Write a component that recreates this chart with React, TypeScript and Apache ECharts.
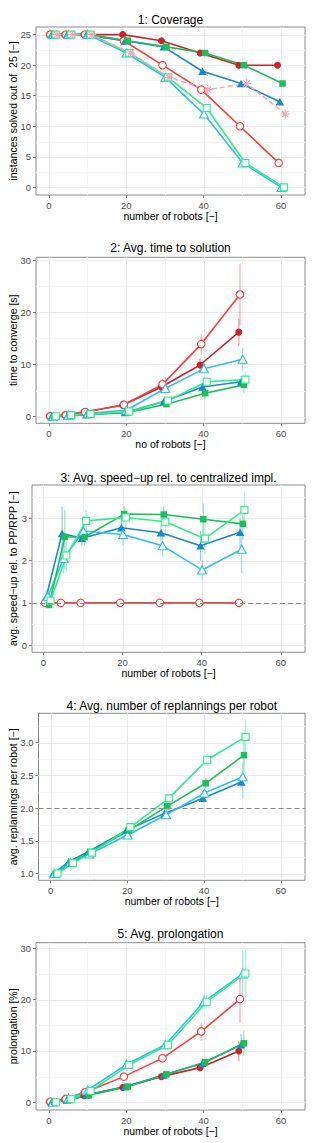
import React, { useEffect, useRef } from "react";
import * as echarts from "echarts";

// ---------- shared axis values ----------
const robots = [1, 5, 10, 20, 30, 40, 50, 60];
const xTickValues = [0, 20, 40, 60];
const xMinorValues = [10, 30, 50];

// ---------- panel 1: coverage (instances solved out of 25) ----------
const covRedFilled = [25, 25, 25, 25, 24, 22, 20, 20];
const covRedOpen = [25, 25, 25, 24, 20, 16, 10, 4];
const covBlueFilled = [25, 25, 25, 24, 23, 19, 17, 14];
const covBlueOpen = [25, 25, 25, 22, 18, 12, 4, 0];
const covGreenFilled = [25, 25, 25, 24, 23, 22, 20, 17];
const covGreenOpen = [25, 25, 25, 22, 18, 13, 4, 0];
const covPink = [25, 25, 25, 22, 18, 16, 17, 12];

// ---------- panel 2: time to converge [s] ----------
const timeRedOpen = [0.1, 0.3, 0.9, 2.3, 6.2, 13.9, 23.4];
const timeRedOpenLo = [0.1, 0.3, 0.8, 2.0, 5.5, 11.8, 17.5];
const timeRedOpenHi = [0.1, 0.3, 1.0, 2.6, 7.2, 15.8, 29.3];
const timeRedFilled = [0.1, 0.3, 0.9, 2.2, 5.7, 9.9, 16.2];
const timeRedFilledLo = [0.1, 0.3, 0.8, 2.0, 5.0, 8.6, 13.5];
const timeRedFilledHi = [0.1, 0.3, 1.0, 2.4, 6.4, 11.2, 18.8];
const timeBlueFilled = [0, 0.1, 0.4, 0.8, 2.9, 5.7, 6.7];
const timeBlueFilledLo = [0, 0.1, 0.3, 0.7, 2.5, 5.0, 5.6];
const timeBlueFilledHi = [0, 0.2, 0.5, 1.0, 3.3, 6.4, 7.8];
const timeBlueOpen = [0, 0.3, 0.6, 1.3, 5.4, 9.2, 11.0];
const timeBlueOpenLo = [0, 0.2, 0.5, 1.1, 4.2, 8.4, 8.9];
const timeBlueOpenHi = [0.4, 0.5, 0.8, 1.6, 7.6, 10.5, 13.2];
const timeGreenFilled = [0.1, 0.3, 0.5, 0.8, 2.4, 4.5, 6.1];
const timeGreenFilledLo = [0.1, 0.2, 0.4, 0.7, 2.1, 3.3, 4.5];
const timeGreenFilledHi = [0.1, 0.4, 0.6, 0.9, 2.8, 5.5, 7.7];
const timeGreenOpen = [0.1, 0.3, 0.5, 1.0, 3.1, 6.7, 7.1];
const timeGreenOpenLo = [0.1, 0.2, 0.4, 0.9, 2.7, 5.8, 6.0];
const timeGreenOpenHi = [0.1, 0.4, 0.6, 1.1, 3.6, 7.9, 8.6];

// ---------- panel 3: speed-up rel. to centralized ----------
const spdRedOpen = [1, 1, 1, 1, 1, 1, 1];
const spdBlueFilled = [1.14, 2.64, 2.53, 2.78, 2.66, 2.35, 2.67];
const spdBlueFilledLo = [1.0, 2.0, 2.35, 2.5, 2.45, 2.0, 2.3];
const spdBlueFilledHi = [1.3, 3.28, 2.7, 3.05, 2.85, 2.7, 3.0];
const spdBlueOpen = [1.15, 2.05, 2.7, 2.62, 2.35, 1.78, 2.27];
const spdBlueOpenLo = [1.05, 1.7, 2.45, 2.35, 2.1, 1.55, 1.7];
const spdBlueOpenHi = [1.25, 2.4, 2.95, 2.9, 2.6, 2.0, 2.85];
const spdGreenFilled = [0.95, 2.56, 2.56, 3.1, 3.09, 2.98, 2.87];
const spdGreenFilledLo = [0.9, 1.8, 2.35, 2.9, 2.85, 2.6, 2.5];
const spdGreenFilledHi = [1.0, 3.2, 2.75, 3.3, 3.3, 3.35, 3.25];
const spdGreenOpen = [1.05, 2.12, 2.94, 3.02, 2.92, 2.52, 3.2];
const spdGreenOpenLo = [1.0, 1.75, 2.7, 2.75, 2.65, 2.15, 2.8];
const spdGreenOpenHi = [1.1, 2.45, 3.2, 3.25, 3.15, 2.9, 3.62];

// ---------- panel 4: replannings per robot ----------
const repBlueFilled = [1.0, 1.18, 1.33, 1.66, 1.92, 2.15, 2.4];
const repBlueFilledLo = [1.0, 1.17, 1.31, 1.63, 1.89, 2.11, 2.32];
const repBlueFilledHi = [1.0, 1.19, 1.35, 1.69, 1.95, 2.19, 2.5];
const repBlueOpen = [1.0, 1.17, 1.3, 1.59, 1.9, 2.23, 2.48];
const repBlueOpenLo = [1.0, 1.15, 1.28, 1.56, 1.86, 2.17, 2.15];
const repBlueOpenHi = [1.0, 1.19, 1.32, 1.62, 1.94, 2.29, 2.7];
const repGreenFilled = [1.0, 1.16, 1.33, 1.66, 2.03, 2.38, 2.81];
const repGreenFilledLo = [1.0, 1.15, 1.31, 1.63, 1.99, 2.3, 2.55];
const repGreenFilledHi = [1.0, 1.17, 1.35, 1.69, 2.07, 2.46, 3.1];
const repGreenOpen = [1.0, 1.16, 1.32, 1.71, 2.15, 2.74, 3.09];
const repGreenOpenLo = [1.0, 1.15, 1.3, 1.68, 2.1, 2.65, 2.85];
const repGreenOpenHi = [1.0, 1.17, 1.34, 1.74, 2.2, 2.83, 3.35];

// ---------- panel 5: prolongation [%] ----------
const proRedOpen = [0.1, 0.65, 1.95, 5.0, 8.6, 13.8, 20.1];
const proRedOpenLo = [0.1, 0.55, 1.7, 4.5, 7.8, 12.0, 15.5];
const proRedOpenHi = [0.1, 0.75, 2.2, 5.5, 9.4, 15.5, 24.7];
const proRedFilled = [0.1, 0.5, 1.3, 2.9, 5.0, 6.75, 10.0];
const proRedFilledLo = [0.1, 0.4, 1.1, 2.6, 4.6, 6.2, 8.0];
const proRedFilledHi = [0.1, 0.6, 1.5, 3.2, 5.4, 7.3, 12.0];
const proBlueFilled = [0, 0.45, 1.4, 3.05, 5.3, 7.6, 11.2];
const proBlueFilledLo = [0, 0.35, 1.2, 2.7, 4.8, 7.0, 9.2];
const proBlueFilledHi = [0, 0.55, 1.6, 3.4, 5.8, 8.2, 13.3];
const proBlueOpen = [0, 0.8, 2.4, 7.4, 11.2, 19.6, 25.0];
const proBlueOpenLo = [0, 0.6, 2.0, 6.6, 10.2, 18.2, 20.5];
const proBlueOpenHi = [0.2, 1.0, 2.8, 8.2, 12.4, 21.0, 29.5];
const proGreenFilled = [0.1, 0.45, 1.4, 3.05, 5.45, 7.8, 11.5];
const proGreenFilledLo = [0.1, 0.35, 1.2, 2.7, 4.9, 7.2, 9.0];
const proGreenFilledHi = [0.1, 0.55, 1.6, 3.4, 6.0, 8.4, 14.0];
const proGreenOpen = [0, 0.6, 2.2, 7.3, 11.2, 19.6, 25.1];
const proGreenOpenLo = [0, 0.45, 1.9, 6.5, 10.0, 18.2, 20.5];
const proGreenOpenHi = [0.2, 0.8, 2.5, 8.1, 12.4, 21.0, 29.8];

// ---------- styles / layout ----------
const FONT = "'Liberation Sans', Arial, Helvetica, sans-serif";
const ASTERISK = "path://M5,0L5,10M0,5L10,5M1.5,1.5L8.5,8.5M1.5,8.5L8.5,1.5";

type Key = "redFilled" | "redOpen" | "blueFilled" | "blueOpen" | "greenFilled" | "greenOpen" | "pink";
const drawOrder: Key[] = ["redFilled", "redOpen", "blueFilled", "blueOpen", "greenFilled", "greenOpen", "pink"];

const styles: Record<Key, { color: string; symbol: string; size: number | number[]; filled: boolean; dashed?: boolean }> = {
  redFilled: { color: "#C9252C", symbol: "circle", size: 7, filled: true },
  redOpen: { color: "#FF3B3B", symbol: "circle", size: 7.5, filled: false },
  blueFilled: { color: "#1A8AC8", symbol: "triangle", size: [8.5, 7.5], filled: true },
  blueOpen: { color: "#30BFEF", symbol: "triangle", size: [9, 8], filled: false },
  greenFilled: { color: "#1DBF5B", symbol: "rect", size: 6.5, filled: true },
  greenOpen: { color: "#2DEE8A", symbol: "rect", size: 7, filled: false },
  pink: { color: "#F4A6B8", symbol: ASTERISK, size: 9, filled: false, dashed: true },
};
// horizontal dodge of each series around the robot count
const dodge: Record<Key, number> = {
  redFilled: -0.9, redOpen: -0.6, blueFilled: -0.3, blueOpen: 0.1, greenFilled: 0.4, greenOpen: 0.8, pink: 1.1,
};

type PanelData = Partial<Record<Key, { v: number[]; lo?: number[]; hi?: number[] }>>;

const panelData: PanelData[] = [
  {
    redFilled: { v: covRedFilled }, redOpen: { v: covRedOpen }, blueFilled: { v: covBlueFilled },
    blueOpen: { v: covBlueOpen }, greenFilled: { v: covGreenFilled }, greenOpen: { v: covGreenOpen }, pink: { v: covPink },
  },
  {
    redFilled: { v: timeRedFilled, lo: timeRedFilledLo, hi: timeRedFilledHi },
    redOpen: { v: timeRedOpen, lo: timeRedOpenLo, hi: timeRedOpenHi },
    blueFilled: { v: timeBlueFilled, lo: timeBlueFilledLo, hi: timeBlueFilledHi },
    blueOpen: { v: timeBlueOpen, lo: timeBlueOpenLo, hi: timeBlueOpenHi },
    greenFilled: { v: timeGreenFilled, lo: timeGreenFilledLo, hi: timeGreenFilledHi },
    greenOpen: { v: timeGreenOpen, lo: timeGreenOpenLo, hi: timeGreenOpenHi },
  },
  {
    redOpen: { v: spdRedOpen },
    blueFilled: { v: spdBlueFilled, lo: spdBlueFilledLo, hi: spdBlueFilledHi },
    blueOpen: { v: spdBlueOpen, lo: spdBlueOpenLo, hi: spdBlueOpenHi },
    greenFilled: { v: spdGreenFilled, lo: spdGreenFilledLo, hi: spdGreenFilledHi },
    greenOpen: { v: spdGreenOpen, lo: spdGreenOpenLo, hi: spdGreenOpenHi },
  },
  {
    blueFilled: { v: repBlueFilled, lo: repBlueFilledLo, hi: repBlueFilledHi },
    blueOpen: { v: repBlueOpen, lo: repBlueOpenLo, hi: repBlueOpenHi },
    greenFilled: { v: repGreenFilled, lo: repGreenFilledLo, hi: repGreenFilledHi },
    greenOpen: { v: repGreenOpen, lo: repGreenOpenLo, hi: repGreenOpenHi },
  },
  {
    redFilled: { v: proRedFilled, lo: proRedFilledLo, hi: proRedFilledHi },
    redOpen: { v: proRedOpen, lo: proRedOpenLo, hi: proRedOpenHi },
    blueFilled: { v: proBlueFilled, lo: proBlueFilledLo, hi: proBlueFilledHi },
    blueOpen: { v: proBlueOpen, lo: proBlueOpenLo, hi: proBlueOpenHi },
    greenFilled: { v: proGreenFilled, lo: proGreenFilledLo, hi: proGreenFilledHi },
    greenOpen: { v: proGreenOpen, lo: proGreenOpenLo, hi: proGreenOpenHi },
  },
];

const panelTitles = [
  "1: Coverage",
  "2: Avg. time to solution",
  "3: Avg. speed\u2212up rel. to centralized impl.",
  "4: Avg. number of replannings per robot",
  "5: Avg. prolongation",
];
const xNames = [
  "number of robots [\u2212]",
  "no of robots [\u2212]",
  "number of robots [\u2212]",
  "number of robots [\u2212]",
  "number of robots [\u2212]",
];
const yNames = [
  "instances solved out of  25 [\u2212]",
  "time to converge [s]",
  "avg. speed\u2212up rel. to PP/RPP [\u2212]",
  "avg. replannings per robot [\u2212]",
  "prolongation [%]",
];
const yTickValues = [
  [0, 5, 10, 15, 20, 25],
  [0, 10, 20, 30],
  [0, 1, 2, 3],
  [1, 1.5, 2, 2.5, 3],
  [0, 10, 20, 30],
];
const yMinorValues = [
  [2.5, 7.5, 12.5, 17.5, 22.5],
  [5, 15, 25],
  [0.5, 1.5, 2.5, 3.5],
  [1.25, 1.75, 2.25, 2.75, 3.25],
  [5, 15, 25],
];
const hLines: (number | null)[] = [null, null, 1, 2, null];

const layout = [
  { left: 36, top: 27, height: 168, xMin: -3.3, xMax: 66.2, yMin: -1.25, yMax: 26.25, titleY: 20, yGap: 17.5, dec: 0 },
  { left: 36, top: 257.3, height: 166, xMin: -3.3, xMax: 66.2, yMin: -1.26, yMax: 30.52, titleY: 248, yGap: 17.5, dec: 0 },
  { left: 32, top: 485, height: 167.3, xMin: -2.9, xMax: 66.1, yMin: -0.17, yMax: 3.79, titleY: 478, yGap: 13.5, dec: 0 },
  { left: 38.5, top: 713.3, height: 167, xMin: -3.16, xMax: 66.3, yMin: 0.897, yMax: 3.45, titleY: 706, yGap: 20, dec: 1 },
  { left: 36, top: 942.7, height: 167.3, xMin: -3.3, xMax: 66.2, yMin: -1.5, yMax: 31.09, titleY: 934.3, yGap: 17.5, dec: 0 },
];
const RIGHT = 305;

function hexToRgba(hex: string, a: number) {
  const n = parseInt(hex.slice(1), 16);
  return `rgba(${(n >> 16) & 255},${(n >> 8) & 255},${n & 255},${a})`;
}

function buildOption() {
  const grid: any[] = [];
  const xAxis: any[] = [];
  const yAxis: any[] = [];
  const series: any[] = [];
  const graphic: any[] = [];

  layout.forEach((L, gi) => {
    grid.push({
      left: L.left,
      top: L.top,
      width: RIGHT - L.left,
      height: L.height,
      show: true,
      borderColor: "#8C8C8C",
      borderWidth: 1,
      backgroundColor: "#FFFFFF",
      containLabel: false,
      outerBoundsMode: "none",
    });
    xAxis.push({
      type: "value",
      gridIndex: gi,
      min: L.xMin,
      max: L.xMax,
      axisLine: { show: false, onZero: false },
      axisTick: { show: true, inside: false, length: 3, customValues: xTickValues, lineStyle: { color: "#7F7F7F", width: 1 } },
      axisLabel: { customValues: xTickValues, margin: 5, fontSize: 9.5, color: "#4D4D4D", fontFamily: FONT },
      splitLine: { show: false },
      name: xNames[gi],
      nameLocation: "middle",
      nameGap: 15.5,
      nameMoveOverlap: false,
      nameTextStyle: { fontSize: 10.5, color: "#000", fontFamily: FONT },
    });
    const dec = L.dec;
    yAxis.push({
      type: "value",
      gridIndex: gi,
      min: L.yMin,
      max: L.yMax,
      axisLine: { show: false, onZero: false },
      axisTick: { show: true, inside: false, length: 3, customValues: yTickValues[gi], lineStyle: { color: "#7F7F7F", width: 1 } },
      axisLabel: {
        customValues: yTickValues[gi],
        margin: 5,
        fontSize: 9.5,
        color: "#4D4D4D",
        fontFamily: FONT,
        formatter: (v: number) => v.toFixed(dec),
      },
      splitLine: { show: false },
      name: yNames[gi],
      nameLocation: "middle",
      nameRotate: 90,
      nameGap: L.yGap,
      nameMoveOverlap: false,
      nameTextStyle: { fontSize: 10.5, color: "#000", fontFamily: FONT },
    });

    // gridlines (kind 0 x-major, 1 x-minor, 2 y-major, 3 y-minor)
    const gridData: number[][] = [
      ...xMinorValues.map((v) => [1, v]),
      ...yMinorValues[gi].map((v) => [3, v]),
      ...xTickValues.map((v) => [0, v]),
      ...yTickValues[gi].map((v) => [2, v]),
    ];
    const refX = L.xMin + 1;
    const refY = L.yMin;
    series.push({
      type: "custom",
      xAxisIndex: gi,
      yAxisIndex: gi,
      silent: true,
      z: 1,
      data: gridData,
      encode: { x: 0, y: 1 },
      renderItem: (params: any, api: any) => {
        const kind = api.value(0);
        const v = api.value(1);
        const cs = params.coordSys;
        const stroke = kind === 0 || kind === 2 ? "#EBEBEB" : "#F6F6F6";
        if (kind < 2) {
          const px = Math.round(api.coord([v, refY])[0]) + 0.5;
          return { type: "line", shape: { x1: px, y1: cs.y, x2: px, y2: cs.y + cs.height }, style: { stroke, lineWidth: 1 } };
        }
        const py = Math.round(api.coord([refX, v])[1]) + 0.5;
        return { type: "line", shape: { x1: cs.x, y1: py, x2: cs.x + cs.width, y2: py }, style: { stroke, lineWidth: 1 } };
      },
    });

    const pd = panelData[gi];
    // error bars
    drawOrder.forEach((k) => {
      const d = pd[k];
      if (!d || !d.lo || !d.hi) return;
      const st = styles[k];
      const eb = d.v.map((_, i) => [robots[i] + dodge[k], d.lo![i], d.hi![i]]);
      series.push({
        type: "custom",
        xAxisIndex: gi,
        yAxisIndex: gi,
        silent: true,
        z: 2,
        data: eb,
        encode: { x: 0, y: [1, 2] },
        renderItem: (_p: any, api: any) => {
          const x = api.value(0);
          const p1 = api.coord([x, api.value(1)]);
          const p2 = api.coord([x, api.value(2)]);
          return {
            type: "line",
            shape: { x1: p1[0], y1: p1[1], x2: p2[0], y2: p2[1] },
            style: { stroke: hexToRgba(st.color, 0.45), lineWidth: 1.2 },
          };
        },
      });
    });

    // lines + markers
    drawOrder.forEach((k) => {
      const d = pd[k];
      if (!d) return;
      const st = styles[k];
      const s: any = {
        type: "line",
        xAxisIndex: gi,
        yAxisIndex: gi,
        z: 3,
        silent: true,
        data: d.v.map((v, i) => [robots[i] + dodge[k], v]),
        symbol: st.symbol,
        symbolSize: st.size,
        showAllSymbol: true,
        color: st.color,
        lineStyle: { color: st.color, width: 1.6, type: st.dashed ? [5, 3] : "solid" },
        itemStyle: st.symbol === ASTERISK
          ? { color: "none", borderColor: st.color, borderWidth: 1.1 }
          : st.filled
            ? { color: st.color, borderWidth: 0 }
            : { color: "#FFFFFF", borderColor: st.color, borderWidth: 1.1 },
      };
      const hl = hLines[gi];
      if (hl !== null && ((gi === 2 && k === "redOpen") || (gi === 3 && k === "greenOpen"))) {
        s.markLine = {
          silent: true,
          symbol: ["none", "none"],
          label: { show: false },
          lineStyle: { color: "#8A8A8A", width: 1, type: [5, 3] },
          data: [{ yAxis: hl }],
        };
      }
      series.push(s);
    });

    graphic.push({
      type: "text",
      x: (L.left + RIGHT) / 2,
      y: L.titleY,
      style: {
        text: panelTitles[gi],
        fontSize: 12,
        fontFamily: FONT,
        fill: "#000",
        align: "center",
        verticalAlign: "middle",
      },
    });
  });

  return { animation: false, backgroundColor: "#FFFFFF", grid, xAxis, yAxis, series, graphic };
}

export default function App() {
  const ref = useRef<HTMLDivElement>(null);
  useEffect(() => {
    document.body.style.margin = "0";
    if (!ref.current) return;
    const chart = echarts.init(ref.current, undefined, { renderer: "svg" });
    chart.setOption(buildOption() as any);
    return () => chart.dispose();
  }, []);
  return <div ref={ref} style={{ width: 318, height: 1143 }} />;
}
